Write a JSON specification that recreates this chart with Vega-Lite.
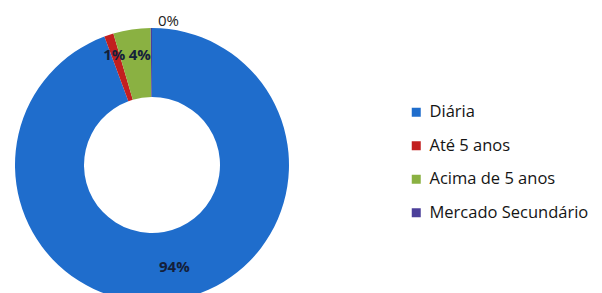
{
  "$schema": "https://vega.github.io/schema/vega-lite/v6.json",
  "width": 304,
  "height": 330,
  "padding": 0,
  "background": "white",
  "config": {"view": {"stroke": null}},
  "data": {"values": [
    {"k": 1, "cat": "Diária", "v": 94.35, "label": "94%"},
    {"k": 2, "cat": "Até 5 anos", "v": 1.1, "label": "1%"},
    {"k": 3, "cat": "Acima de 5 anos", "v": 4.4, "label": "4%"},
    {"k": 4, "cat": "Mercado Secundário", "v": 0.15, "label": "0%"}
  ]},
  "encoding": {
    "theta": {"field": "v", "type": "quantitative", "stack": true},
    "order": {"field": "k", "type": "quantitative"}
  },
  "layer": [
    {
      "mark": {"type": "arc", "outerRadius": 137, "innerRadius": 68},
      "encoding": {
        "color": {
          "field": "cat", "type": "nominal",
          "sort": ["Diária", "Até 5 anos", "Acima de 5 anos", "Mercado Secundário"],
          "scale": {
            "domain": ["Diária", "Até 5 anos", "Acima de 5 anos", "Mercado Secundário"],
            "range": ["#1f6dcc", "#c21f1f", "#8ab142", "#4b3f9a"]
          },
          "legend": {
            "title": null,
            "orient": "none",
            "legendX": 408,
            "legendY": 104,
            "symbolType": "square",
            "symbolSize": 81,
            "symbolStrokeWidth": 0,
            "labelFont": "Open Sans",
            "labelFontSize": 16.5,
            "labelColor": "#151515",
            "labelOffset": 5,
            "rowPadding": 16.5,
            "labelLimit": 300
          }
        }
      }
    },
    {
      "mark": {"type": "text", "radius": 104, "font": "Open Sans", "fontSize": 15, "fontWeight": "bold", "color": "#14203a", "dx": 4},
      "encoding": {"text": {"condition": {"test": "datum.k == 1", "field": "label"}, "value": ""}}
    },
    {
      "mark": {"type": "text", "radius": 104, "font": "Open Sans", "fontSize": 15, "fontWeight": "bold", "color": "#14203a", "dx": -5, "dy": -11},
      "encoding": {"text": {"condition": {"test": "datum.k == 2", "field": "label"}, "value": ""}}
    },
    {
      "mark": {"type": "text", "radius": 104, "font": "Open Sans", "fontSize": 15, "fontWeight": "bold", "color": "#14203a", "dx": 3, "dy": -7},
      "encoding": {"text": {"condition": {"test": "datum.k == 3", "field": "label"}, "value": ""}}
    },
    {
      "mark": {"type": "text", "radius": 104, "font": "Open Sans", "fontSize": 15, "color": "#222222", "dx": 17, "dy": -40},
      "encoding": {"text": {"condition": {"test": "datum.k == 4", "field": "label"}, "value": ""}}
    }
  ]
}
